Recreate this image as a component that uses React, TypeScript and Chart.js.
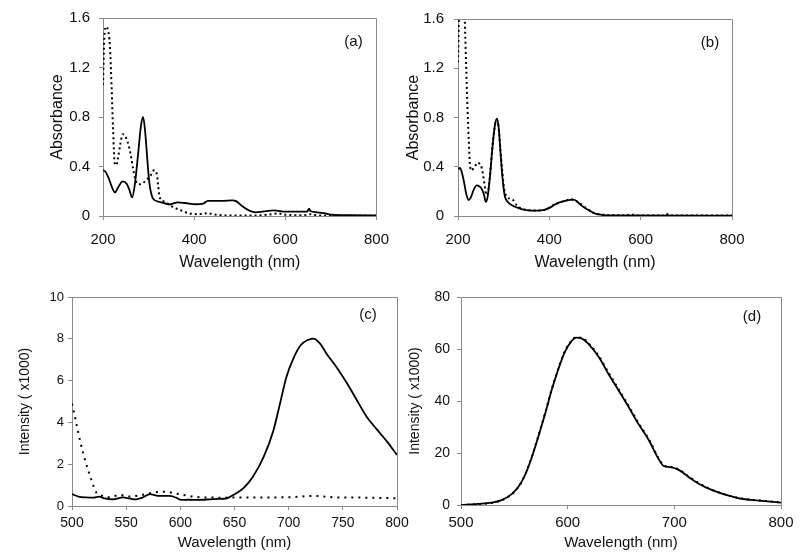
import React, { useEffect, useRef } from "react";
import { Chart, registerables } from "chart.js";

Chart.register(...registerables);

const FONT = '"Liberation Sans", Arial, Helvetica, sans-serif';
const INK = "#111111";
const AXIS = "#8a8a8a";

// ---------- Panel (a): absorbance ----------
const aSolidNm = [200, 205, 212, 220, 226, 233, 243, 252, 258, 264, 270, 277, 283, 288, 293, 298, 302, 310, 324, 346, 364, 380, 404, 420, 430, 460, 484, 492, 505, 521, 535, 550, 575, 601, 630, 648, 652, 655, 670, 688, 702, 740, 800];
const aSolidAbs = [0.37, 0.36, 0.31, 0.23, 0.19, 0.23, 0.28, 0.26, 0.21, 0.15, 0.26, 0.5, 0.72, 0.8, 0.66, 0.42, 0.26, 0.14, 0.115, 0.093, 0.11, 0.105, 0.095, 0.1, 0.123, 0.123, 0.126, 0.12, 0.08, 0.043, 0.03, 0.035, 0.045, 0.035, 0.035, 0.035, 0.06, 0.04, 0.03, 0.021, 0.01, 0.006, 0.005];
const aDotNm = [200, 203, 207, 211, 215, 219, 222, 226, 229, 233, 238, 243, 248, 252, 257, 262, 266, 270, 277, 285, 295, 305, 312, 318, 321, 324, 332, 339, 350, 361, 375, 390, 410, 430, 445, 470, 500, 540, 560, 585, 600, 640, 655, 670, 700, 800];
const aDotAbs = [1.06, 1.45, 1.53, 1.5, 1.38, 1.03, 0.71, 0.42, 0.41, 0.47, 0.58, 0.66, 0.65, 0.62, 0.56, 0.47, 0.38, 0.31, 0.256, 0.26, 0.29, 0.33, 0.37, 0.34, 0.25, 0.155, 0.12, 0.107, 0.08, 0.06, 0.04, 0.02, 0.015, 0.022, 0.012, 0.005, 0.004, 0.005, 0.01, 0.02, 0.01, 0.006, 0.015, 0.005, 0.003, 0.003];

// ---------- Panel (b): absorbance ----------
const bSolidNm = [200, 204, 208, 213, 218, 223, 228, 234, 241, 247, 252, 257, 261, 265, 270, 276, 281, 285, 289, 293, 296, 300, 303, 310, 318, 330, 339, 355, 369, 380, 391, 402, 412, 420, 427, 438, 449, 456, 463, 472, 485, 500, 515, 530, 800];
const bSolidAbs = [0.38, 0.39, 0.36, 0.28, 0.18, 0.13, 0.15, 0.21, 0.248, 0.24, 0.22, 0.17, 0.115, 0.16, 0.32, 0.58, 0.74, 0.79, 0.72, 0.52, 0.37, 0.22, 0.155, 0.11, 0.088, 0.068, 0.056, 0.046, 0.043, 0.045, 0.052, 0.07, 0.093, 0.107, 0.115, 0.125, 0.133, 0.13, 0.11, 0.08, 0.05, 0.02, 0.01, 0.005, 0.003];
const bDotNm = [200, 203, 208, 213, 215, 218, 221, 224, 226, 230, 234, 240, 244, 248, 252, 256, 259, 262, 266, 270, 276, 281, 285, 289, 293, 297, 301, 306, 314, 321, 330, 340, 355, 370, 391, 412, 427, 449, 463, 485, 500, 520, 560, 585, 600, 650, 656, 662, 800];
const bDotAbs = [1.25, 1.8, 2.0, 1.8, 1.57, 1.2, 0.85, 0.58, 0.42, 0.37, 0.39, 0.42, 0.435, 0.42, 0.39, 0.31, 0.23, 0.17, 0.2, 0.33, 0.59, 0.74, 0.78, 0.72, 0.53, 0.36, 0.22, 0.16, 0.14, 0.128, 0.08, 0.06, 0.047, 0.044, 0.052, 0.094, 0.116, 0.134, 0.112, 0.052, 0.022, 0.01, 0.005, 0.01, 0.004, 0.004, 0.02, 0.004, 0.004];

// ---------- Panel (c): emission intensity (x1000) ----------
const cSolidNm = [500, 506, 513, 520, 525, 530, 538, 547, 553, 559, 565, 572, 576, 581, 590, 596, 601, 608, 615, 621, 627, 635, 643, 649, 658, 667, 677, 686, 692, 698, 705, 711, 717, 723, 729, 735, 745, 754, 763, 772, 782, 791, 800];
const cSolidInt = [0.57, 0.45, 0.41, 0.4, 0.45, 0.36, 0.32, 0.41, 0.36, 0.32, 0.4, 0.57, 0.52, 0.48, 0.48, 0.4, 0.29, 0.3, 0.29, 0.3, 0.32, 0.34, 0.37, 0.53, 0.84, 1.4, 2.36, 3.63, 4.9, 6.18, 7.13, 7.69, 7.93, 8.01, 7.77, 7.29, 6.58, 5.86, 5.06, 4.27, 3.63, 3.07, 2.44];
const cDotNm = [500, 504, 508, 513, 518, 522, 528, 535, 544, 552, 559, 567, 575, 587, 595, 603, 612, 621, 640, 652, 683, 700, 723, 745, 770, 800];
const cDotInt = [4.9, 3.95, 3.0, 2.04, 1.24, 0.68, 0.48, 0.42, 0.53, 0.45, 0.48, 0.55, 0.64, 0.68, 0.6, 0.53, 0.45, 0.41, 0.4, 0.41, 0.41, 0.42, 0.48, 0.41, 0.4, 0.37];

// ---------- Panel (d): emission intensity (x1000) ----------
const dSolidNm = [500, 516, 529, 538, 547.5, 554, 560, 566, 572.5, 579, 585, 591, 597.5, 604, 608, 613, 619, 629, 638, 647.5, 657, 666, 676, 685, 690, 697.5, 704, 713, 722.5, 735, 747.5, 763, 779, 800];
const dSolidInt = [0, 0.4, 0.9, 1.9, 4.2, 7.1, 11.5, 17.9, 26.3, 35.3, 44.2, 51.9, 59, 63.2, 64.4, 64.1, 62.2, 57, 50.6, 44.2, 37.8, 31.4, 25, 17.9, 15, 14.5, 13.5, 10.9, 8.3, 5.8, 4.0, 2.4, 1.7, 0.9];
const dDotNm = [500, 516, 529, 538, 547.5, 554, 560, 566, 572.5, 579, 585, 591, 597.5, 604, 608, 613, 619, 629, 638, 647.5, 657, 666, 676, 685, 690, 697.5, 704, 713, 722.5, 735, 747.5, 763, 779, 800];
const dDotInt = [0, 0.3, 0.8, 1.8, 4.1, 7.0, 11.6, 18.1, 26.6, 35.6, 44.5, 52.2, 59.3, 63.4, 64.5, 64.3, 62.5, 57.4, 51.1, 44.7, 38.2, 31.8, 25.4, 18.2, 15.2, 14.6, 13.7, 11.1, 8.5, 5.9, 4.1, 2.5, 1.8, 1.0];

const toPts = (xs: number[], ys: number[]) => xs.map((x, i) => ({ x, y: ys[i] }));

const boxPlugin = {
  id: "panelBox",
  afterDatasetsDraw(chart: any, _args: any, opts: any) {
    const { ctx, chartArea } = chart;
    const { left, right, top, bottom } = chartArea;
    ctx.save();
    ctx.strokeStyle = AXIS;
    ctx.lineWidth = 1;
    ctx.beginPath();
    ctx.moveTo(left, Math.round(top) + 0.5);
    ctx.lineTo(Math.round(right) + 0.5, Math.round(top) + 0.5);
    ctx.lineTo(Math.round(right) + 0.5, bottom);
    ctx.stroke();
    ctx.fillStyle = INK;
    ctx.font = `${opts.size}px ${FONT}`;
    ctx.textAlign = "center";
    ctx.textBaseline = "middle";
    ctx.fillText(opts.label, right - opts.dx, top + opts.dy);
    ctx.restore();
  },
};

type PanelSpec = {
  left: number;
  top: number;
  width: number;
  height: number;
  solid: { x: number; y: number }[];
  dotted: { x: number; y: number }[];
  dash: number[];
  xMin: number;
  xMax: number;
  xStep: number;
  yMax: number;
  yStep: number;
  yTitle: string;
  label: string;
  yWidth: number;
  xHeight: number;
  pad: { left: number; top: number; right: number; bottom: number };
  yTickSize: number;
  xTickSize: number;
  yTitleSize: number;
  xTitleSize: number;
  yTickPad: number;
  xTickPad: number;
  yTitlePad: number;
  xTitlePad: number;
  labelDx: number;
  labelDy: number;
};

function buildConfig(p: PanelSpec): any {
  return {
    type: "line",
    data: {
      datasets: [
        {
          data: p.dotted,
          borderColor: "#000",
          borderWidth: 2,
          borderDash: p.dash,
          pointRadius: 0,
          tension: 0.4,
          cubicInterpolationMode: "monotone",
          fill: false,
        },
        {
          data: p.solid,
          borderColor: "#000",
          borderWidth: 1.8,
          pointRadius: 0,
          tension: 0.4,
          cubicInterpolationMode: "monotone",
          fill: false,
        },
      ],
    },
    options: {
      responsive: false,
      animation: false,
      events: [],
      layout: { padding: p.pad },
      plugins: {
        legend: { display: false },
        tooltip: { enabled: false },
        panelBox: { label: p.label, dx: p.labelDx, dy: p.labelDy, size: 15 },
      },
      scales: {
        x: {
          type: "linear",
          min: p.xMin,
          max: p.xMax,
          afterFit: (s: any) => {
            s.height = p.xHeight;
          },
          ticks: {
            stepSize: p.xStep,
            color: INK,
            padding: p.xTickPad,
            maxRotation: 0,
            font: { family: FONT, size: p.xTickSize },
          },
          grid: { drawOnChartArea: false, drawTicks: true, tickLength: 4, color: AXIS },
          border: { display: true, color: AXIS, width: 1 },
          title: {
            display: true,
            text: "Wavelength (nm)",
            color: INK,
            padding: { top: 0, bottom: p.xTitlePad },
            font: { family: FONT, size: p.xTitleSize },
          },
        },
        y: {
          type: "linear",
          min: 0,
          max: p.yMax,
          afterFit: (s: any) => {
            s.width = p.yWidth;
          },
          ticks: {
            stepSize: p.yStep,
            color: INK,
            padding: p.yTickPad,
            font: { family: FONT, size: p.yTickSize },
          },
          grid: { drawOnChartArea: false, drawTicks: true, tickLength: 4, color: AXIS },
          border: { display: true, color: AXIS, width: 1 },
          title: {
            display: true,
            text: p.yTitle,
            color: INK,
            padding: { top: p.yTitlePad, bottom: 0 },
            font: { family: FONT, size: p.yTitleSize },
          },
        },
      },
    },
    plugins: [boxPlugin],
  };
}

const panels: PanelSpec[] = [
  {
    left: 0, top: 0, width: 400, height: 277,
    solid: toPts(aSolidNm, aSolidAbs), dotted: toPts(aDotNm, aDotAbs), dash: [2, 3],
    xMin: 200, xMax: 800, xStep: 200, yMax: 1.6, yStep: 0.4,
    yTitle: "Absorbance", label: "(a)",
    yWidth: 103, xHeight: 61, pad: { left: 0, top: 16, right: 22, bottom: 0 },
    yTickSize: 15, xTickSize: 15, yTitleSize: 16, xTitleSize: 16,
    yTickPad: 9, xTickPad: 11, yTitlePad: 48, xTitlePad: 5, labelDx: 23, labelDy: 24,
  },
  {
    left: 400, top: 0, width: 400, height: 277,
    solid: toPts(bSolidNm, bSolidAbs), dotted: toPts(bDotNm, bDotAbs), dash: [2, 3],
    xMin: 200, xMax: 800, xStep: 200, yMax: 1.6, yStep: 0.4,
    yTitle: "Absorbance", label: "(b)",
    yWidth: 58, xHeight: 61, pad: { left: 0, top: 16, right: 68, bottom: 0 },
    yTickSize: 15, xTickSize: 15, yTitleSize: 16, xTitleSize: 16,
    yTickPad: 10, xTickPad: 11, yTitlePad: 4, xTitlePad: 5, labelDx: 22, labelDy: 24,
  },
  {
    left: 0, top: 280, width: 420, height: 274,
    solid: toPts(cSolidNm, cSolidInt), dotted: toPts(cDotNm, cDotInt), dash: [2, 5],
    xMin: 500, xMax: 800, xStep: 50, yMax: 10, yStep: 2,
    yTitle: "Intensity ( x1000)", label: "(c)",
    yWidth: 72, xHeight: 48, pad: { left: 0, top: 17, right: 23, bottom: 0 },
    yTickSize: 13, xTickSize: 14, yTitleSize: 14, xTitleSize: 15,
    yTickPad: 4, xTickPad: 5, yTitlePad: 17, xTitlePad: 2, labelDx: 29, labelDy: 18,
  },
  {
    left: 400, top: 280, width: 400, height: 274,
    solid: toPts(dSolidNm, dSolidInt), dotted: toPts(dDotNm, dDotInt), dash: [2, 4],
    xMin: 500, xMax: 800, xStep: 100, yMax: 80, yStep: 20,
    yTitle: "Intensity ( x1000)", label: "(d)",
    yWidth: 61, xHeight: 49, pad: { left: 0, top: 17, right: 19, bottom: 0 },
    yTickSize: 14, xTickSize: 15, yTitleSize: 14, xTitleSize: 15,
    yTickPad: 7, xTickPad: 5, yTitlePad: 7, xTitlePad: 2, labelDx: 29, labelDy: 20,
  },
];

function ChartPanel({ spec }: { spec: PanelSpec }) {
  const ref = useRef<HTMLCanvasElement | null>(null);
  useEffect(() => {
    if (!ref.current) return;
    const chart = new Chart(ref.current, buildConfig(spec));
    return () => chart.destroy();
  }, [spec]);
  return (
    <canvas
      ref={ref}
      width={spec.width}
      height={spec.height}
      style={{ position: "absolute", left: spec.left, top: spec.top, width: spec.width, height: spec.height }}
    />
  );
}

export default function App() {
  return (
    <div style={{ position: "fixed", left: 0, top: 0, width: 800, height: 554, background: "#fff", overflow: "hidden" }}>
      {panels.map((p) => (
        <ChartPanel key={p.label} spec={p} />
      ))}
    </div>
  );
}
